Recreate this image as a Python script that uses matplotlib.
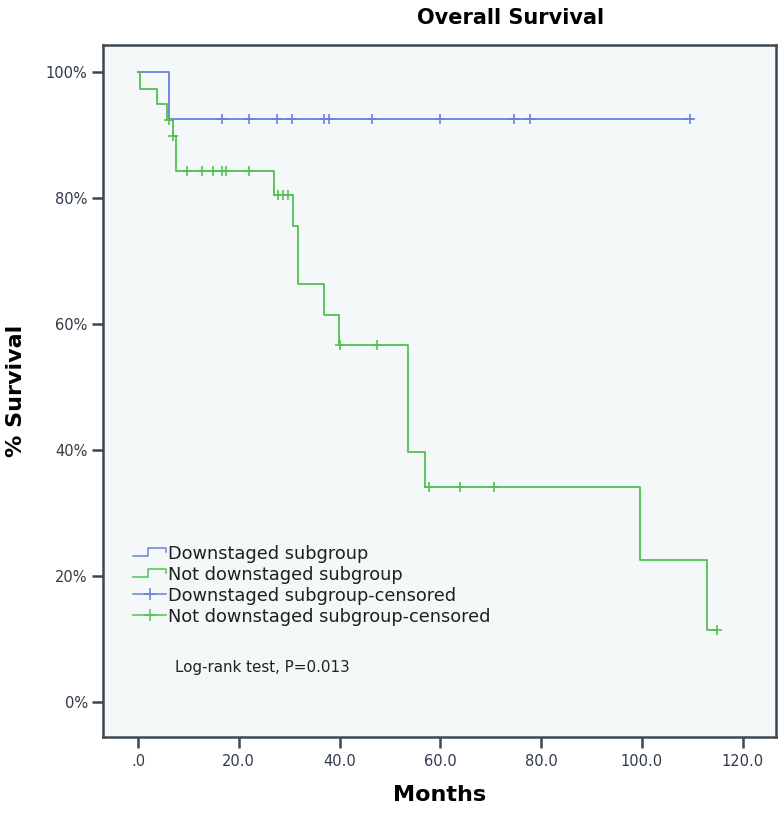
import numpy as np
import matplotlib
matplotlib.use("Agg")
import matplotlib.pyplot as plt
from matplotlib.lines import Line2D
from matplotlib.legend_handler import HandlerBase

# ── Data ──────────────────────────────────────────────────────────────────────

# Downstaged subgroup
down_t = [0.0, 6.2]
down_s = [100.0, 92.5]
down_end = 110.0
down_cens = [16.7, 22.0, 27.6, 30.6, 36.9, 37.9, 46.4, 59.9, 74.6, 77.8, 109.5]

# Not downstaged subgroup
notdown_t = [0.0, 0.5, 3.7, 5.7, 6.9, 7.6, 26.9, 30.7, 31.8, 36.9, 39.9,
             53.6, 56.9, 99.6, 113.0]
notdown_s = [100.0, 97.4, 94.9, 92.4, 89.9, 84.3, 80.5, 75.6, 66.3, 61.5,
             56.7, 39.7, 34.2, 22.6, 11.4]
notdown_end = 115.0
notdown_cens = [6.2, 6.9, 9.7, 12.8, 14.8, 16.6, 17.5, 22.1, 27.8, 28.8, 29.8,
                40.0, 47.5, 57.7, 63.9, 70.6, 115.0]

xticks = [0, 20, 40, 60, 80, 100, 120]
xtick_labels = [".0", "20.0", "40.0", "60.0", "80.0", "100.0", "120.0"]
yticks = [0, 20, 40, 60, 80, 100]
ytick_labels = ["0%", "20%", "40%", "60%", "80%", "100%"]

BLUE = "#6a80da"
GREEN = "#52c152"
FRAME = "#3b4852"
TICKC = "#2e3a48"


def surv_at(times, surv, t):
    idx = np.searchsorted(times, t, side="right") - 1
    return np.asarray(surv)[idx]


class StepHandler(HandlerBase):
    def create_artists(self, legend, orig, xd, yd, w, h, fontsize, trans):
        xs = [xd, xd + 0.45 * w, xd + 0.45 * w, xd + w, xd + w]
        ys = [yd + 0.2 * h, yd + 0.2 * h, yd + 0.85 * h, yd + 0.85 * h, yd + 0.55 * h]
        ln = Line2D(xs, ys, color=orig.get_color(), lw=1.1, transform=trans)
        return [ln]


class CensHandler(HandlerBase):
    def create_artists(self, legend, orig, xd, yd, w, h, fontsize, trans):
        ln = Line2D([xd, xd + w], [yd + 0.5 * h] * 2, color=orig.get_color(),
                    lw=1.1, transform=trans)
        mk = Line2D([xd + 0.5 * w], [yd + 0.5 * h], color=orig.get_color(),
                    marker="+", ms=8, mew=1.1, ls="none", transform=trans)
        return [ln, mk]


# ── Plot ──────────────────────────────────────────────────────────────────────

fig = plt.figure(figsize=(7.83, 8.13), dpi=100)
ax = fig.add_axes([0.1315, 0.0935, 0.8595, 0.851])
ax.set_facecolor("#f5f8f8")

for t, s, end, cens, col in [(down_t, down_s, down_end, down_cens, BLUE),
                             (notdown_t, notdown_s, notdown_end, notdown_cens, GREEN)]:
    tt = list(t) + [end]
    ss = list(s) + [s[-1]]
    ax.step(tt, ss, where="post", color=col, lw=1.3, zorder=3)
    ax.plot(cens, surv_at(t, s, cens), ls="none", marker="+", ms=7.5, mew=1.2,
            color=col, zorder=4)

ax.set_xlim(-6.94, 126.6)
ax.set_ylim(-5.56, 104.3)
ax.set_xticks(xticks)
ax.set_xticklabels(xtick_labels)
ax.set_yticks(yticks)
ax.set_yticklabels(ytick_labels)
ax.tick_params(axis="both", direction="out", length=8, width=1.8, color=FRAME,
               labelcolor=TICKC, labelsize=10.5, pad=3)
ax.tick_params(axis="x", pad=4)
for sp in ax.spines.values():
    sp.set_color(FRAME)
    sp.set_linewidth(1.8)

ax.set_xlabel("Months", fontsize=16, fontweight="bold", labelpad=12)
ax.set_ylabel("% Survival", fontsize=16, fontweight="bold", labelpad=14)
fig.text(0.652, 0.978, "Overall Survival", fontsize=15, fontweight="bold",
         ha="center", va="center")

handles = [Line2D([], [], color=BLUE), Line2D([], [], color=GREEN),
           Line2D([], [], color=BLUE), Line2D([], [], color=GREEN)]
labels = ["Downstaged subgroup", "Not downstaged subgroup",
          "Downstaged subgroup-censored", "Not downstaged subgroup-censored"]
leg = ax.legend(handles, labels, loc="upper left", bbox_to_anchor=(0.045, 0.278),
                frameon=False, fontsize=12.8, borderpad=0, borderaxespad=0,
                handlelength=1.85, handletextpad=0.08, labelspacing=0.17,
                handler_map={handles[0]: StepHandler(), handles[1]: StepHandler(),
                             handles[2]: CensHandler(), handles[3]: CensHandler()})
for txt in leg.get_texts():
    txt.set_color("#1f1f1f")

ax.text(0.107, 0.101, "Log-rank test, P=0.013", transform=ax.transAxes,
        fontsize=10.9, color="#222222", va="center", ha="left")

fig.savefig("out.png", dpi=100)
